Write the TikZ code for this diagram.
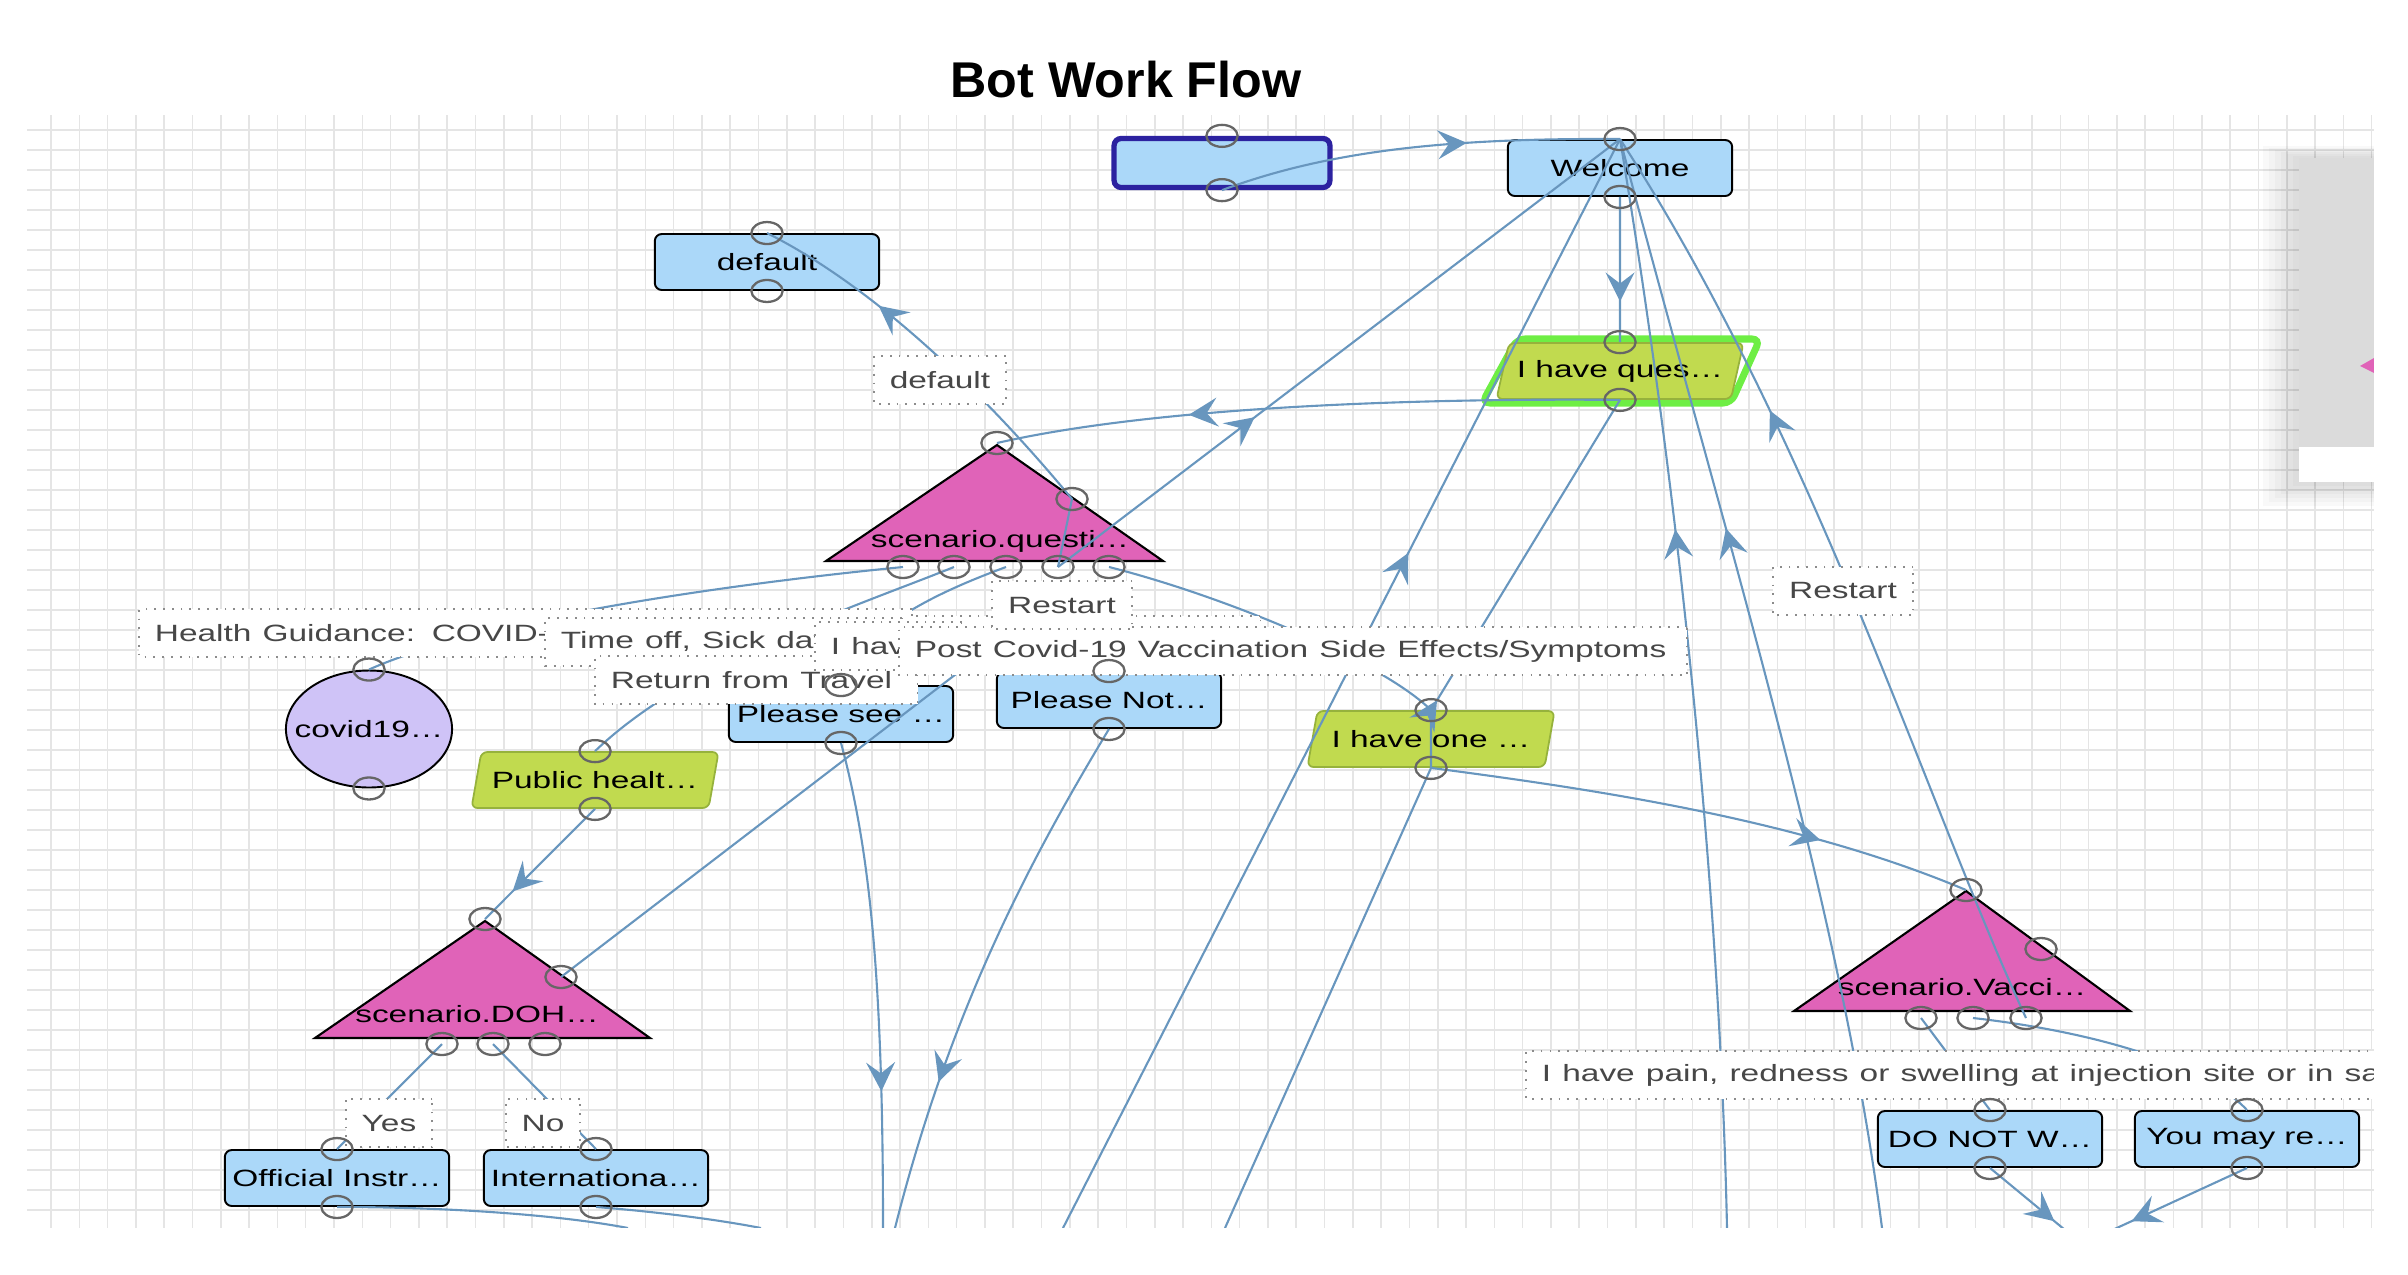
\documentclass[tikz,border=0pt]{standalone}
\usepackage{fontspec}
\setmainfont{Liberation Sans}
\usetikzlibrary{arrows.meta,decorations.markings,shapes.geometric}

\definecolor{msgblue}{RGB}{171,216,249}
\definecolor{entryblue}{RGB}{44,34,160}
\definecolor{askgreen}{RGB}{193,218,79}
\definecolor{askline}{RGB}{150,178,60}
\definecolor{hlgreen}{RGB}{110,238,68}
\definecolor{scenpink}{RGB}{224,99,184}
\definecolor{infolilac}{RGB}{207,195,247}
\definecolor{wireblue}{RGB}{104,150,190}

\pgfdeclarelayer{grid}
\pgfdeclarelayer{wires}
\pgfdeclarelayer{tags}
\pgfdeclarelayer{ports}
\pgfdeclarelayer{veil}
\pgfsetlayers{grid,main,wires,tags,ports,veil}

\begin{document}
\begin{tikzpicture}[x=0.1mm,y=-0.1mm,
    every node/.style={font=\fontsize{6.7}{8}\selectfont,inner sep=0pt},
    msg/.style={draw,line width=0.55pt,fill=msgblue,rounded corners=0.7mm,
                minimum width=15.8mm,minimum height=5.6mm,xscale=1.42},
    entry/.style={msg,draw=entryblue,line width=1.5pt,minimum width=15.2mm,minimum height=4.9mm},
    ask/.style={trapezium,trapezium left angle=68,trapezium right angle=112,
                trapezium stretches body,draw=askline,line width=0.5pt,fill=askgreen,
                rounded corners=0.6mm,minimum width=17.4mm,minimum height=5.6mm,xscale=1.42},
    highlight/.style={draw=hlgreen,fill=white,line width=2pt,rounded corners=0.8mm},
    info/.style={circle,draw,line width=0.55pt,fill=infolilac,minimum size=11.7mm,xscale=1.42},
    scen/.style={draw,line width=0.6pt,fill=scenpink},
    scentext/.style={xscale=1.42},
    port/.style={circle,draw=black!60,line width=0.65pt,minimum size=2.2mm,xscale=1.42},
    tag/.style={draw=black!45,dotted,line width=0.5pt,fill=white,text=black!72,
                inner xsep=1.1mm,minimum height=4.8mm,xscale=1.42},
    wire/.style={draw=wireblue,line width=0.6pt},
    marr/.style={postaction={decorate,decoration={markings,
                 mark=at position #1 with {\arrow{Stealth[length=2.9mm,width=2.9mm,inset=1.1mm]}}}}},
    gridline/.style={draw=black!10,line width=0.45pt}]
  \useasboundingbox (0,0) rectangle (2408,1274);

  \node[font=\fontsize{14.3}{16}\selectfont\bfseries] (title) at (1126,80) {Bot Work Flow};

  % canvas
  \begin{pgfonlayer}{grid}
    \foreach \i in {0,...,82}
      \draw[gridline] ({51+28.3*\i},115) -- ({51+28.3*\i},1228);
    \foreach \j in {0,...,54}
      \draw[gridline] (27,{130+20*\j}) -- (2374,{130+20*\j});
  \end{pgfonlayer}

  % side panel
  \foreach \s in {1,...,6}
    \fill[black,opacity=0.025] ({2299-6*\s},{158-2*\s}) rectangle (2374,{482+4*\s});
  \fill[black!14] (2299,158) rectangle (2374,447);
  \fill[white] (2299,447) rectangle (2374,482);
  \fill[scenpink] (2360,366) -- (2374,358) -- (2374,373) -- cycle;

  % nodes
  \draw[highlight] (1517,339) -- (1760,339) -- (1731,403) -- (1482,403) -- cycle;
  \node[entry] (st)   at (1222,163) {};
  \node[msg]   (wel)  at (1620,168) {Welcome};
  \node[msg]   (dfl)  at (767,262)  {default};
  \node[ask]   (ques) at (1620,371) {I have ques…};
  \node[info]  (cov)  at (369,729)  {covid19…};
  \node[ask]   (pub)  at (595,780)  {Public healt…};
  \node[msg]   (see)  at (841,714)  {Please see …};
  \node[msg]   (note) at (1109,700) {Please Not…};
  \node[ask]   (one)  at (1431,739) {I have one …};
  \node[msg]   (off)  at (337,1178) {Official Instr…};
  \node[msg]   (intl) at (596,1178) {Internationa…};
  \node[msg]   (dnw)  at (1990,1139) {DO NOT W…};
  \node[msg]   (ymr)  at (2247,1139) {You may re…};

  \draw[scen] (997,445) -- (826,561) -- (1163,561) -- cycle;
  \draw[scen] (485,921) -- (315,1038) -- (650,1038) -- cycle;
  \draw[scen] (1966,891) -- (1794,1011) -- (2130,1011) -- cycle;
  \node[scentext] (qtri) at (1000,541) {scenario.questi…};
  \node[scentext] (dtri) at (477,1014) {scenario.DOH…};
  \node[scentext] (vtri) at (1962,987) {scenario.Vacci…};

  % ports
  \begin{pgfonlayer}{ports}
    \foreach \n in {st,wel,dfl,ques,cov,pub,see,note,one,off,intl,dnw,ymr} {
      \node[port] (\n-t) at (\n.north) {};
      \node[port] (\n-b) at (\n.south) {};
    }
    \node[port] (qs-a) at (997,443) {};
    \node[port] (qs-r) at (1072,499) {};
    \foreach \x [count=\k] in {903,954,1006,1058,1109}
      \node[port] (qs-\k) at (\x,567) {};
    \node[port] (dh-a) at (485,919) {};
    \node[port] (dh-r) at (561,977) {};
    \foreach \x [count=\k] in {442,493,545}
      \node[port] (dh-\k) at (\x,1044) {};
    \node[port] (va-a) at (1966,890) {};
    \node[port] (va-r) at (2041,949) {};
    \foreach \x [count=\k] in {1921,1973,2026}
      \node[port] (va-\k) at (\x,1018) {};
  \end{pgfonlayer}

  % loose ends below the canvas
  \coordinate (out-see)  at (883,1228);
  \coordinate (out-note) at (895,1228);
  \coordinate (out-w1)   at (1063,1228);
  \coordinate (out-ques) at (1225,1228);
  \coordinate (out-w2)   at (1727,1228);
  \coordinate (out-w3)   at (1882,1228);
  \coordinate (out-off)  at (628,1228);
  \coordinate (out-intl) at (761,1228);
  \coordinate (vac-next) at (2082,1244);
  \coordinate (dh-end)   at (1020,625);

  % connectors
  \begin{pgfonlayer}{wires}
    \draw[wire,marr=0.62] (st-b.center) .. controls (1330,150) and (1450,138) .. (wel-t.center);
    \draw[wire,marr=0.72] (wel-b.center) -- (ques-t.center);
    \draw[wire,marr=0.69] (ques-b.center) .. controls (1400,398) and (1150,408) .. (qs-a.center);
    \draw[wire,marr=0.35] (qs-4.center) -- (wel-t.center);
    \draw[wire,marr=0.72] (qs-4.center) -- (qs-r.center) .. controls (990,400) and (880,290) .. (dfl-t.center);
    \draw[wire] (qs-1.center) .. controls (720,585) and (480,620) .. (cov-t.center);
    \draw[wire] (qs-2.center) .. controls (860,605) and (690,660) .. (pub-t.center);
    \draw[wire] (qs-3.center) .. controls (930,595) and (860,630) .. (see-t.center);
    \draw[wire] (qs-5.center) .. controls (1220,595) and (1380,660) .. (one-t.center);
    \draw[wire,marr=0.72] (see-b.center) .. controls (870,850) and (883,980) .. (out-see);
    \draw[wire,marr=0.72] (note-b.center) .. controls (1030,860) and (950,1010) .. (out-note);
    \draw[wire] (dh-r.center) -- (dh-end);
    \draw[wire,marr=0.62] (out-w1) -- (wel-t.center);
    \draw[wire,marr=0.64] (out-w2) .. controls (1720,900) and (1680,500) .. (wel-t.center);
    \draw[wire,marr=0.64] (out-w3) .. controls (1840,900) and (1720,520) .. (wel-t.center);
    \draw[wire,marr=0.68] (va-3.center) .. controls (1925,800) and (1815,440) .. (wel-t.center);
    \draw[wire,marr=0.62] (out-ques) -- (one-b.center) -- (one-t.center) -- (ques-b.center);
    \draw[wire,marr=0.75] (pub-b.center) -- (dh-a.center);
    \draw[wire] (dh-1.center) -- (off-t.center);
    \draw[wire] (dh-2.center) -- (intl-t.center);
    \draw[wire] (off-b.center) .. controls (450,1207) and (560,1215) .. (out-off);
    \draw[wire] (intl-b.center) .. controls (660,1212) and (720,1220) .. (out-intl);
    \draw[wire,marr=0.72] (one-b.center) .. controls (1600,790) and (1800,820) .. (va-a.center);
    \draw[wire] (va-1.center) -- (dnw-t.center);
    \draw[wire] (va-2.center) .. controls (2080,1030) and (2200,1060) .. (ymr-t.center);
    \draw[wire,marr=0.7] (dnw-b.center) -- (vac-next);
    \draw[wire,marr=0.7] (ymr-b.center) -- (vac-next);
  \end{pgfonlayer}

  % connector labels
  \begin{pgfonlayer}{tags}
    \node[tag] (t-dfl) at (940,380) {default};
    \node[tag,minimum width=39.5mm] (t-hidden) at (980,640) {};
    \node[tag,anchor=west,text width=52.2mm,align=left] (t-health) at (138,633) {Health Guidance: COVID-19};
    \node[tag,anchor=west,text width=22.9mm,align=left] (t-timeoff) at (544,642) {Time off, Sick days};
    \node[tag,anchor=west,text width=20.5mm,align=left] (t-return) at (594,680) {Return from Travel};
    \node[tag,anchor=west,text width=8.1mm,align=left] (t-ihave) at (814,646) {I have};
    \node[tag,anchor=west,text width=53.3mm,align=left] (t-post) at (898,651) {Post Covid-19 Vaccination Side Effects/Symptoms};
    \node[tag,minimum width=9.9mm] (t-restart1) at (1062,605) {Restart};
    \node[tag,minimum width=9.9mm] (t-restart2) at (1843,591) {Restart};
    \node[tag,minimum width=6.1mm] (t-yes) at (389,1123) {Yes};
    \node[tag,minimum width=5.1mm] (t-no) at (543,1123) {No};
    \node[tag,anchor=west,text width=80mm,align=left] (t-pain) at (1525,1075) {I have pain, redness or swelling at injection site or in same arm};
  \end{pgfonlayer}

  \begin{pgfonlayer}{veil}
    \fill[white] (2374,0) rectangle (2408,1274);
    \fill[white] (0,1228) rectangle (2408,1274);
  \end{pgfonlayer}
\end{tikzpicture}
\end{document}
